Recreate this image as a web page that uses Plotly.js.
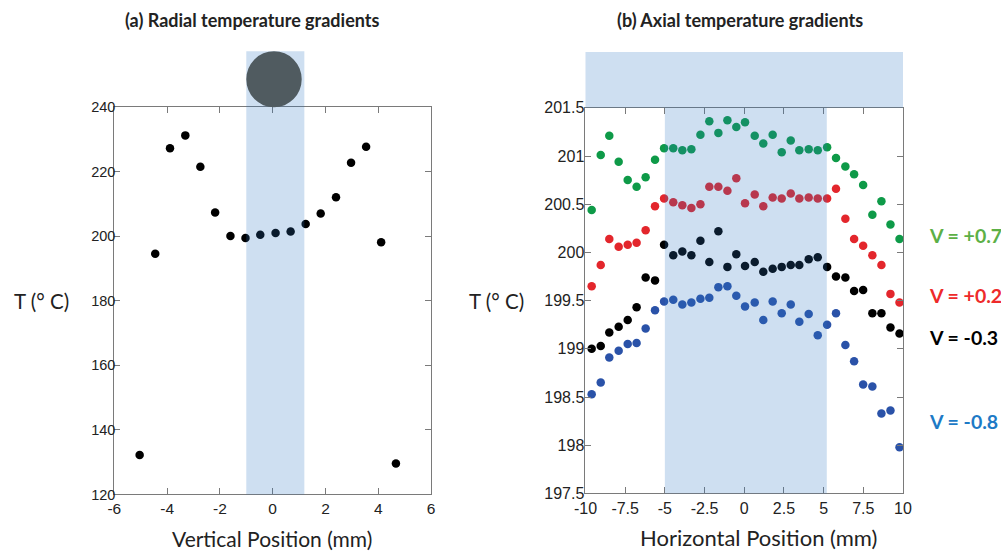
<!DOCTYPE html>
<html><head><meta charset="utf-8">
<script src="https://cdn.plot.ly/plotly-3.0.1.min.js"></script>
<style>html,body{margin:0;padding:0;background:#fff}#chart{width:1001px;height:552px}</style>
</head><body><div id="chart"></div>
<script>
// ---- Data: (a) radial ----
const radialX = [-5.04, -4.45, -3.89, -3.31, -2.74, -2.18, -1.60, -1.03, -0.47, 0.11, 0.68, 1.25, 1.82, 2.40, 2.97, 3.54, 4.11, 4.67];
const radialT = [132.2, 194.6, 227.3, 231.3, 221.6, 207.4, 200.1, 199.5, 200.5, 201.0, 201.5, 203.8, 207.1, 212.1, 222.8, 227.8, 198.2, 129.6];

// ---- Data: (b) axial ----
const axialX = [-9.61, -9.04, -8.50, -7.91, -7.34, -6.78, -6.21, -5.62, -5.05, -4.47, -3.90, -3.33, -2.76, -2.20, -1.63, -1.06, -0.50, 0.05,
                0.66, 1.20, 1.79, 2.36, 2.93, 3.47, 4.06, 4.63, 5.22, 5.78, 6.37, 6.92, 7.49, 8.07, 8.64, 9.21, 9.78];
const tPlus07 = [200.44, 201.01, 201.21, 200.94, 200.75, 200.68, 200.78, 200.96, 201.08, 201.08, 201.06, 201.07, 201.22, 201.36, 201.24, 201.37, 201.30, 201.35,
                 201.21, 201.13, 201.22, 201.04, 201.16, 201.06, 201.07, 201.06, 201.09, 200.98, 200.89, 200.81, 200.70, 200.39, 200.53, 200.29, 200.14];
const tPlus02 = [199.65, 199.87, 200.14, 200.06, 200.08, 200.10, 200.23, 200.48, 200.56, 200.52, 200.49, 200.46, 200.50, 200.68, 200.68, 200.64, 200.77, 200.51,
                 200.60, 200.48, 200.57, 200.56, 200.61, 200.56, 200.57, 200.56, 200.56, 200.66, 200.35, 200.14, 200.07, 199.97, 199.87, 199.57, 199.48];
const tMinus03 = [199.00, 199.03, 199.17, 199.23, 199.30, 199.43, 199.74, 199.71, 200.08, 199.97, 200.01, 199.97, 200.12, 199.90, 200.22, 199.85, 199.98, 199.86,
                  199.90, 199.80, 199.83, 199.85, 199.87, 199.87, 199.93, 199.95, 199.85, 199.75, 199.74, 199.60, 199.61, 199.37, 199.37, 199.22, 199.16];
const tMinus08 = [198.53, 198.65, 198.91, 198.98, 199.05, 199.06, 199.21, 199.40, 199.49, 199.51, 199.46, 199.48, 199.52, 199.53, 199.64, 199.65, 199.55, 199.44,
                  199.48, 199.30, 199.49, 199.37, 199.46, 199.28, 199.36, 199.14, 199.25, 199.37, 199.04, 198.87, 198.63, 198.61, 198.33, 198.36, 197.98];

const seriesNames = ["V = +0.7", "V = +0.2", "V = -0.3", "V = -0.8"];
const markerColors = ["#0e9a48", "#e3262c", "#000000", "#2a52a8"];
const labelColors = ["#5cb046", "#ee2a2a", "#000000", "#1d7ac6"];
const labelY = [200.18, 199.55, 199.12, 198.25];

// tick labels
const radialXTicks = [-6, -4, -2, 0, 2, 4, 6];
const radialXTickText = ["-6", "-4", "-2", "0", "2", "4", "6"];
const radialYTicks = [120, 140, 160, 180, 200, 220, 240];
const axialXTicks = [-10, -7.5, -5, -2.5, 0, 2.5, 5, 7.5, 10];
const axialXTickText = ["-10", "-7.5", "-5", "-2.5", "0", "2.5", "5", "7.5", "10"];
const axialYTicks = [197.5, 198, 198.5, 199, 199.5, 200, 200.5, 201, 201.5];
const axialYTickText = ["197.5", "198", "198.5", "199", "199.5", "200", "200.5", "201", "201.5"];

// heated zones
const radialBand = [-1.0, 1.2];
const axialBand = [-5.0, 5.2];
const rodCircle = [-1.0, 1.1];

const mk = (c) => ({color: c, size: 8.5, line: {width: 0}});
const traces = [
  {x: radialX, y: radialT, type: "scatter", mode: "markers", marker: mk("#000"), xaxis: "x", yaxis: "y", showlegend: false, hoverinfo: "skip"}
];
[tPlus07, tPlus02, tMinus03, tMinus08].forEach((ys, i) => {
  traces.push({x: axialX, y: ys, name: seriesNames[i], type: "scatter", mode: "markers", marker: mk(markerColors[i]),
               xaxis: "x2", yaxis: "y2", showlegend: false, hoverinfo: "skip"});
});

const tickFamily = "Liberation Sans, Arial, sans-serif";
const axBase = {showgrid: false, zeroline: false, showline: true, linecolor: "#7a7a7a", linewidth: 1, mirror: "ticks",
                ticks: "inside", ticklen: 6, tickcolor: "#7a7a7a", fixedrange: true};
const bandFill = "rgba(44,118,193,0.23)";
const topY = 1.145;
const ink = "#222";

const layout = {
  width: 1001, height: 552, margin: {l: 0, r: 0, t: 0, b: 0},
  paper_bgcolor: "#fff", plot_bgcolor: "rgba(0,0,0,0)",
  xaxis: Object.assign({}, axBase, {domain: [0.1142, 0.4306], range: [-6, 6], tickvals: radialXTicks, ticktext: radialXTickText,
          anchor: "y", tickfont: {family: tickFamily, size: 15.5, color: ink}}),
  yaxis: Object.assign({}, axBase, {domain: [0.1043, 0.8056], range: [120, 240], tickvals: radialYTicks, anchor: "x",
          tickfont: {family: tickFamily, size: 14.5, color: ink}, ticklabelstandoff: -5}),
  xaxis2: Object.assign({}, axBase, {domain: [0.5849, 0.9021], range: [-10, 10], tickvals: axialXTicks, ticktext: axialXTickText,
          anchor: "y2", tickfont: {family: tickFamily, size: 16, color: ink}}),
  yaxis2: Object.assign({}, axBase, {domain: [0.1061, 0.8047], range: [197.5, 201.5], tickvals: axialYTicks, ticktext: axialYTickText, anchor: "x2",
          tickfont: {family: tickFamily, size: 16, color: ink}, ticklabelstandoff: -3}),
  shapes: [
    {type: "rect", layer: "above", xref: "x", yref: "y domain", x0: radialBand[0], x1: radialBand[1], y0: 0, y1: topY, fillcolor: bandFill, line: {width: 0}},
    {type: "circle", layer: "above", xref: "x", yref: "y domain", x0: rodCircle[0], x1: rodCircle[1], y0: 1.0, y1: topY, fillcolor: "#505b60", line: {width: 0}},
    {type: "rect", layer: "above", xref: "x2", yref: "y2 domain", x0: axialBand[0], x1: axialBand[1], y0: 0, y1: 1, fillcolor: bandFill, line: {width: 0}},
    {type: "rect", layer: "above", xref: "x2 domain", yref: "y2 domain", x0: 0, x1: 1, y0: 1, y1: topY, fillcolor: bandFill, line: {width: 0}}
  ],
  annotations: [
    {text: "<b>(a) Radial temperature gradients</b>", xref: "paper", yref: "paper", x: 252 / 1001, y: 1 - 20 / 552, xanchor: "center", yanchor: "middle",
     showarrow: false, font: {family: "Lato, sans-serif", size: 18, color: ink}},
    {text: "<b>(b) Axial temperature gradients</b>", xref: "paper", yref: "paper", x: 740 / 1001, y: 1 - 20 / 552, xanchor: "center", yanchor: "middle",
     showarrow: false, font: {family: "Lato, sans-serif", size: 18, color: ink}},
    {text: "Vertical Position (mm)", xref: "paper", yref: "paper", x: 272 / 1001, y: 1 - 538 / 552, xanchor: "center", yanchor: "middle",
     showarrow: false, font: {family: "Lato, sans-serif", size: 21, color: ink}},
    {text: "Horizontal Position (mm)", xref: "paper", yref: "paper", x: 758 / 1001, y: 1 - 537 / 552, xanchor: "center", yanchor: "middle",
     showarrow: false, font: {family: "Lato, sans-serif", size: 22, color: ink}},
    {text: "T (° C)", xref: "paper", yref: "y domain", x: 12 / 1001, y: 0.5, xanchor: "left", yanchor: "middle", showarrow: false,
     font: {family: "Lato, sans-serif", size: 20.5, color: ink}},
    {text: "T (° C)", xref: "paper", yref: "y2 domain", x: 467 / 1001, y: 0.5, xanchor: "left", yanchor: "middle", showarrow: false,
     font: {family: "Lato, sans-serif", size: 20.5, color: ink}}
  ]
};
seriesNames.forEach((n, i) => {
  layout.annotations.push({text: "<b>" + n + "</b>", xref: "paper", yref: "y2", x: 927 / 1001, y: labelY[i], xanchor: "left", yanchor: "middle",
    showarrow: false, font: {family: "Lato, sans-serif", size: 19.5, color: labelColors[i]}});
});

Plotly.newPlot("chart", traces, layout, {staticPlot: true, displayModeBar: false});
</script></body></html>
